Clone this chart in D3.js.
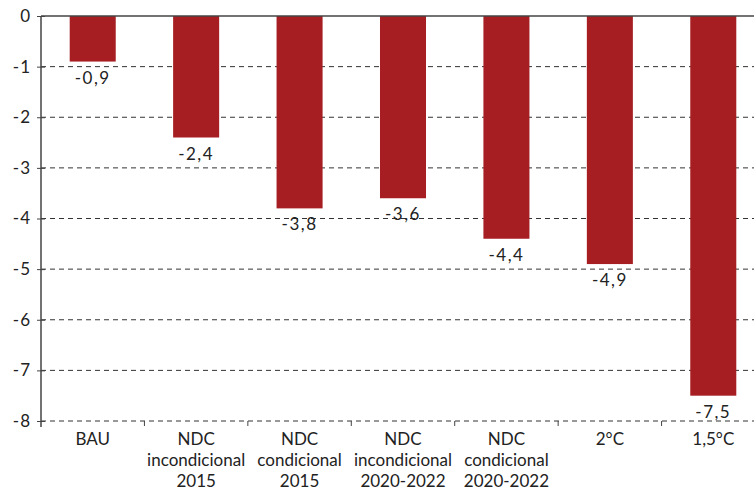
<!DOCTYPE html>
<html><head><meta charset="utf-8">
<script src="https://cdn.jsdelivr.net/npm/d3@7"></script>
<style>body{margin:0;background:#fff}svg text{font-family:Lato,"Open Sans",sans-serif;fill:#222}</style>
</head><body>
<svg id="c" width="754" height="493"></svg>
<script>
const categories = [["BAU"],["NDC","incondicional","2015"],["NDC","condicional","2015"],["NDC","incondicional","2020-2022"],["NDC","condicional","2020-2022"],["2°C"],["1,5°C"]];
const values = [-0.9,-2.4,-3.8,-3.6,-4.4,-4.9,-7.5];
const yTicks = [0,-1,-2,-3,-4,-5,-6,-7,-8];

const svg = d3.select("#c");
const x0 = 41, x1 = 765, yTop = 16, yBot = 421;
const x = d3.scaleBand().domain(d3.range(values.length)).range([x0, x1]).paddingInner(0.555).paddingOuter(0.2775);
const y = d3.scaleLinear().domain([0,-8]).range([yTop, yBot]);
const fmt = v => d3.format(".1f")(v).replace(".", ",").replace("−","-");

// gridlines
svg.append("g").selectAll("line").data(yTicks.filter(d=>d!==0)).join("line")
  .attr("x1", x0).attr("x2", 754).attr("y1", d=>y(d)).attr("y2", d=>y(d))
  .attr("stroke", "#333").attr("stroke-width", 1).attr("stroke-dasharray", "5,4");

// bars
svg.append("g").selectAll("rect").data(values).join("rect")
  .attr("x", (d,i)=>x(i)).attr("width", x.bandwidth())
  .attr("y", y(0)).attr("height", d=>y(d)-y(0)).attr("fill", "#A61E22");

// value labels
svg.append("g").selectAll("text").data(values).join("text")
  .attr("x", (d,i)=>x(i)+x.bandwidth()/2).attr("y", d=>y(d)+22)
  .attr("text-anchor","middle").attr("font-size", 17).attr("letter-spacing", 1.5).text(d=>fmt(d));

// zero line
svg.append("line").attr("x1", x0).attr("x2", 754).attr("y1", y(0)).attr("y2", y(0)).attr("stroke","#444").attr("stroke-width",1.5);

// y axis
const ya = svg.append("g").attr("transform", `translate(${x0},0)`)
  .call(d3.axisLeft(y).tickValues(yTicks).tickSize(8).tickPadding(3).tickFormat(d=>String(d).replace("−","-")));
ya.select(".domain").attr("stroke","#444").attr("stroke-width",1.5).attr("d", `M0,${yTop}V${yBot+6}`);
ya.selectAll(".tick line").attr("stroke","#444").attr("x2", 4).attr("x1",-4);
ya.selectAll(".tick text").attr("font-size",17).attr("x",-10).attr("letter-spacing",1).style("font-family","Lato,'Open Sans',sans-serif").attr("fill","#222");

// x axis ticks (between categories)
const step = x.step();
const bounds = d3.range(1, values.length).map(i => x(i) - x.paddingInner()*step/2);
svg.append("g").selectAll("line").data(bounds).join("line")
  .attr("x1", d=>d).attr("x2", d=>d).attr("y1", yBot).attr("y2", yBot+5).attr("stroke","#444");

// category labels
const cl = svg.append("g").selectAll("text").data(categories).join("text")
  .attr("x", (d,i)=>x(i)+x.bandwidth()/2).attr("y", 445).attr("text-anchor","middle").attr("font-size",17);
cl.selectAll("tspan").data(d=>d).join("tspan").attr("x", function(){return this.parentNode.getAttribute("x");})
  .attr("dy", (d,i)=>i===0?0:21).text(d=>d);
</script>
</body></html>
